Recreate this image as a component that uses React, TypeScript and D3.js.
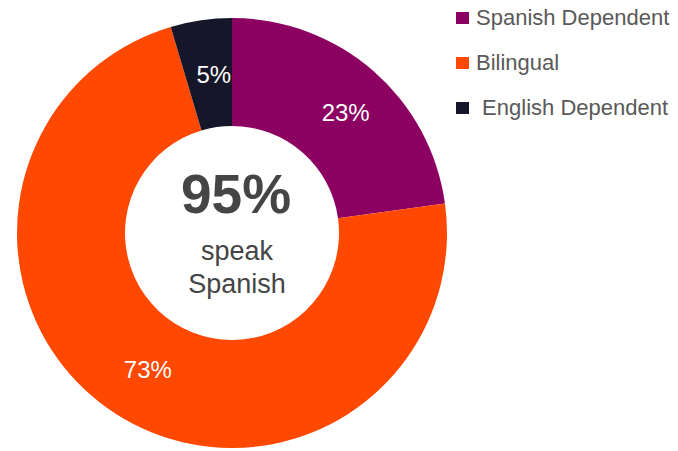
import React from "react";
import * as d3 from "d3";

const categories = ["Spanish Dependent", "Bilingual", "English Dependent"];
const values = [0.228, 0.726, 0.046];
const colors = ["#8C0062", "#FF4800", "#16162A"];
const legendLabels = ["Spanish Dependent", "Bilingual", " English Dependent"];
const centerBig = "95%";
const centerLines = ["speak", "Spanish"];

const W = 678;
const H = 451;

export default function App() {
  const cx = 232;
  const cy = 233;
  const outerR = 215;
  const innerR = 107;
  const data = categories.map((c, i) => ({ name: c, value: values[i], color: colors[i] }));
  const pie = d3.pie<any>().value((d: any) => d.value).sort(null);
  const arcs = pie(data);
  const arc = d3.arc<any>().innerRadius(innerR).outerRadius(outerR);
  const fmt = d3.format(".0%");
  const font = "'Liberation Sans', Arial, sans-serif";

  return (
    <svg width={W} height={H} style={{ position: "absolute", left: 0, top: 0, fontFamily: font }}>
      <rect width={W} height={H} fill="#fff" />
      <g transform={`translate(${cx},${cy})`}>
        {arcs.map((a, i) => (
          <path key={i} d={arc(a) as string} fill={a.data.color} />
        ))}
        {arcs.map((a, i) => {
          const [x, y] = arc.centroid(a);
          return (
            <text key={"l" + i} x={x + (i === 2 ? 5 : i === 0 ? 8 : 3)} y={y + 3} textAnchor="middle" dominantBaseline="middle" fill="#fff" fontSize={24}>
              {fmt(a.data.value)}
            </text>
          );
        })}
        <text x={4} y={-20} textAnchor="middle" fontSize={55} fontWeight="bold" fill="#454545">
          {centerBig}
        </text>
        {centerLines.map((t, i) => (
          <text key={t} x={5} y={27 + i * 33} textAnchor="middle" fontSize={27} fill="#454545">
            {t}
          </text>
        ))}
      </g>
      {legendLabels.map((t, i) => (
        <g key={t} transform={`translate(456,${12 + i * 45})`}>
          <rect width={13} height={12} fill={colors[i]} />
          <text x={20} y={13} fontSize={22} fill="#595959" style={{ whiteSpace: "pre" }}>
            {t}
          </text>
        </g>
      ))}
    </svg>
  );
}
